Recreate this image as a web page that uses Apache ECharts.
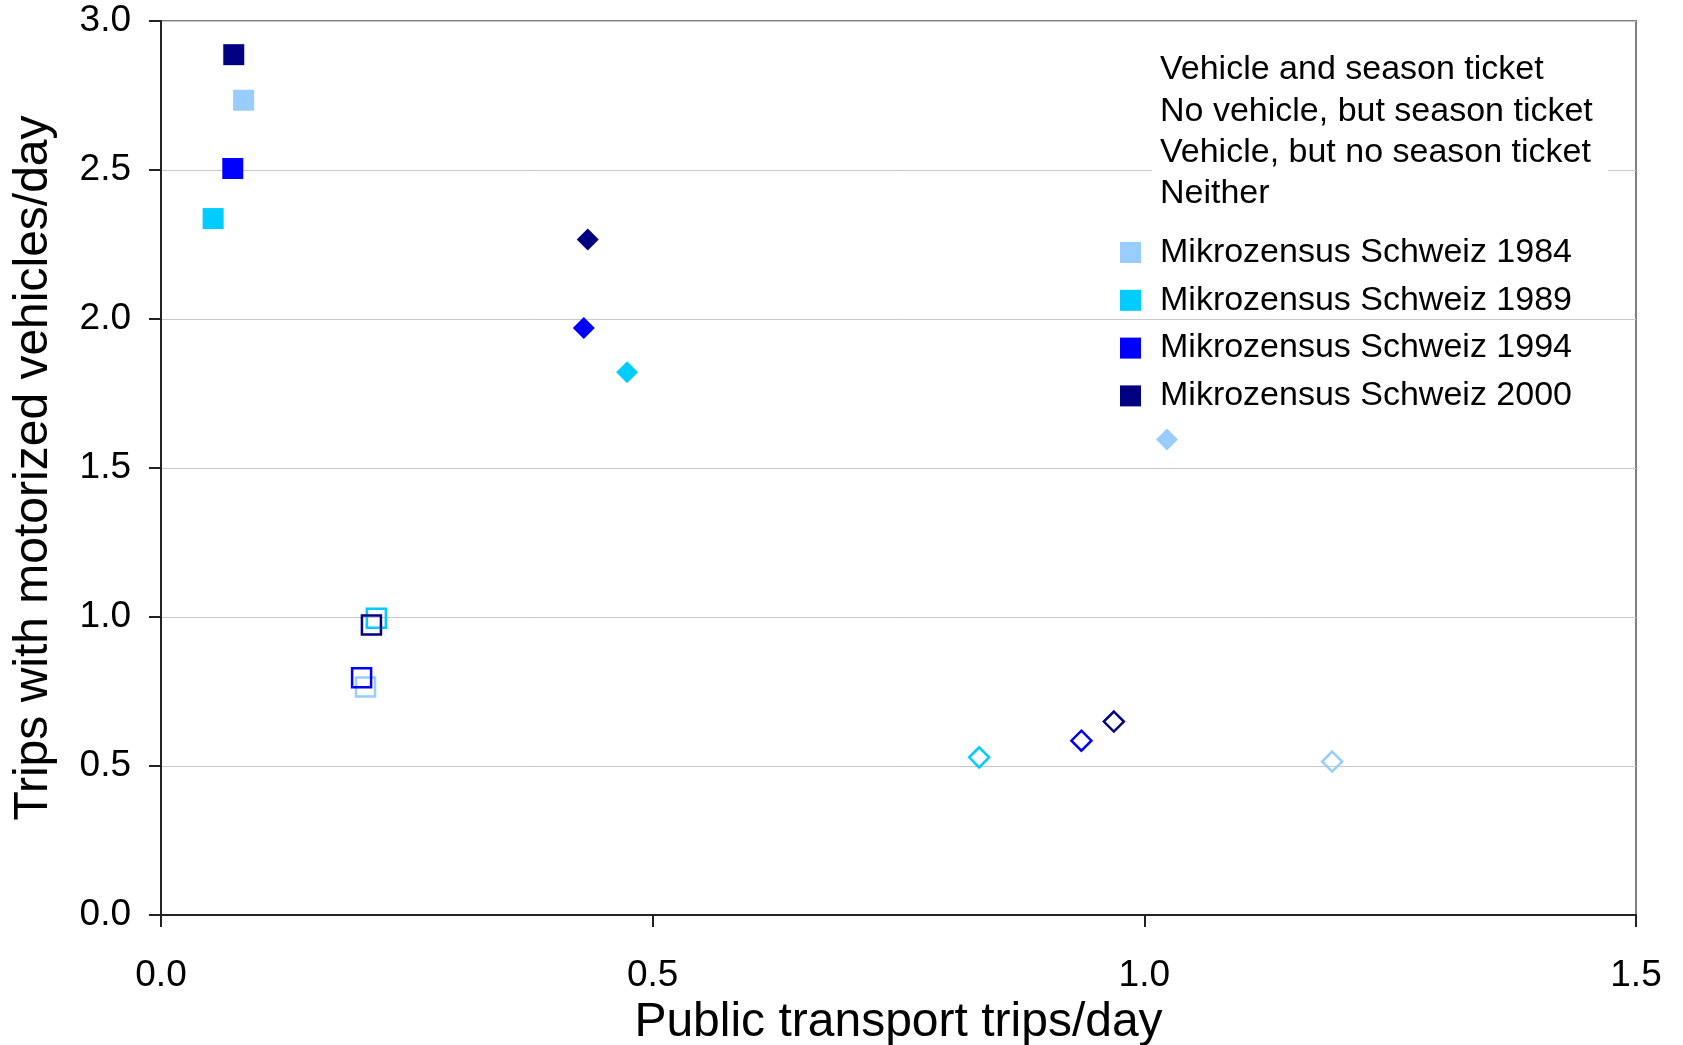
<!DOCTYPE html>
<html>
<head>
<meta charset="utf-8">
<script src="https://cdn.jsdelivr.net/npm/echarts@6/dist/echarts.min.js"></script>
<style>
  html, body { margin: 0; padding: 0; background: #fff; }
  #chart { width: 1683px; height: 1045px; }
</style>
</head>
<body>
<div id="chart"></div>
<script>
// Travel groups (marker shape) and survey years (marker colour)
const groups = [
  'Vehicle and season ticket',
  'No vehicle, but season ticket',
  'Vehicle, but no season ticket',
  'Neither'
];
const years = [
  'Mikrozensus Schweiz 1984',
  'Mikrozensus Schweiz 1989',
  'Mikrozensus Schweiz 1994',
  'Mikrozensus Schweiz 2000'
];

// Public transport trips/day, one value per group (same order as groups)
const pt1984 = [1.023, 1.191, 0.084, 0.208];
const pt1989 = [0.474, 0.832, 0.053, 0.219];
const pt1994 = [0.430, 0.936, 0.073, 0.204];
const pt2000 = [0.434, 0.969, 0.074, 0.214];

// Trips with motorized vehicles/day, one value per group
const mv1984 = [1.596, 0.515, 2.734, 0.765];
const mv1989 = [1.821, 0.529, 2.337, 0.996];
const mv1994 = [1.970, 0.585, 2.505, 0.796];
const mv2000 = [2.267, 0.649, 2.887, 0.973];

// Axis ticks
const xTicks = [0, 0.5, 1.0, 1.5];
const yTicks = [0, 0.5, 1.0, 1.5, 2.0, 2.5, 3.0];

const ptByYear = [pt1984, pt1989, pt1994, pt2000];
const mvByYear = [mv1984, mv1989, mv1994, mv2000];
const yearColors = ['#99CCFF', '#00CCFF', '#0000FF', '#000080'];

// Shape per group: diamonds for season-ticket holders, squares otherwise;
// filled when a vehicle is available.
const groupSymbol = ['diamond', 'diamond', 'rect', 'rect'];
const groupFilled = [true, false, true, false];
const groupSize = [22, 20, 21, 19];

const FONT = "'Liberation Sans', Arial, sans-serif";

const yearSeries = years.map((name, yi) => ({
  type: 'scatter',
  name: name,
  z: 3 + yi,
  itemStyle: { color: yearColors[yi], borderWidth: 0, opacity: 1 },
  emphasis: { disabled: true },
  data: groups.map((g, gi) => ({
    name: g,
    value: [ptByYear[yi][gi], mvByYear[yi][gi]],
    symbol: groupSymbol[gi],
    symbolSize: groupSize[gi],
    itemStyle: groupFilled[gi]
      ? { color: yearColors[yi], borderWidth: 0 }
      : { color: 'rgba(0,0,0,0)', borderColor: yearColors[yi], borderWidth: 2.5 }
  }))
}));

// Entries for the group legend (text only)
const groupSeries = groups.map(name => ({
  type: 'scatter',
  name: name,
  data: [],
  silent: true
}));

const chart = echarts.init(document.getElementById('chart'), null, { renderer: 'canvas' });

chart.setOption({
  animation: false,
  backgroundColor: '#ffffff',
  textStyle: { fontFamily: FONT },
  grid: {
    left: 161, right: 47, top: 21, bottom: 130,
    outerBoundsMode: 'none',
    containLabel: false,
    show: true,
    borderColor: '#808080',
    borderWidth: 2,
    backgroundColor: 'transparent'
  },
  xAxis: {
    type: 'value',
    min: xTicks[0],
    max: xTicks[xTicks.length - 1],
    interval: 0.5,
    name: 'Public transport trips/day',
    nameLocation: 'middle',
    nameGap: 83,
    nameTextStyle: { fontSize: 48, color: '#000', fontFamily: FONT },
    axisLine: { show: true, onZero: false, lineStyle: { color: '#222', width: 2 } },
    axisTick: { show: true, length: 12, lineStyle: { color: '#222', width: 2 } },
    axisLabel: {
      fontSize: 37, color: '#000', fontFamily: FONT, margin: 42,
      formatter: v => v.toFixed(1)
    },
    splitLine: { show: false }
  },
  yAxis: {
    type: 'value',
    min: yTicks[0],
    max: yTicks[yTicks.length - 1],
    interval: 0.5,
    name: 'Trips with motorized vehicles/day',
    nameLocation: 'middle',
    nameGap: 103,
    nameTextStyle: { fontSize: 48, color: '#000', fontFamily: FONT },
    axisLine: { show: true, onZero: false, lineStyle: { color: '#222', width: 2 } },
    axisTick: { show: true, length: 12, lineStyle: { color: '#222', width: 2 } },
    axisLabel: {
      fontSize: 37, color: '#000', fontFamily: FONT, margin: 30,
      formatter: v => v.toFixed(1)
    },
    splitLine: { show: true, lineStyle: { color: '#c8c8c8', width: 1 } }
  },
  legend: [
    {
      data: groups.map(name => ({ name: name, icon: 'none' })),
      orient: 'vertical',
      left: 1152,
      top: 47,
      padding: [6, 15, 6, 3],
      itemWidth: 0,
      itemHeight: 34,
      itemGap: 7.3,
      selectedMode: false,
      backgroundColor: '#ffffff',
      textStyle: { fontSize: 34, lineHeight: 34, color: '#000', fontFamily: FONT }
    },
    {
      data: years,
      orient: 'vertical',
      left: 1120,
      top: 233.5,
      padding: 0,
      icon: 'rect',
      itemWidth: 21,
      itemHeight: 21,
      itemGap: 9.8,
      selectedMode: false,
      textStyle: { fontSize: 34, lineHeight: 36, color: '#000', fontFamily: FONT, padding: [2, 0, 0, 14] }
    }
  ],
  series: yearSeries.concat(groupSeries)
});
</script>
</body>
</html>
